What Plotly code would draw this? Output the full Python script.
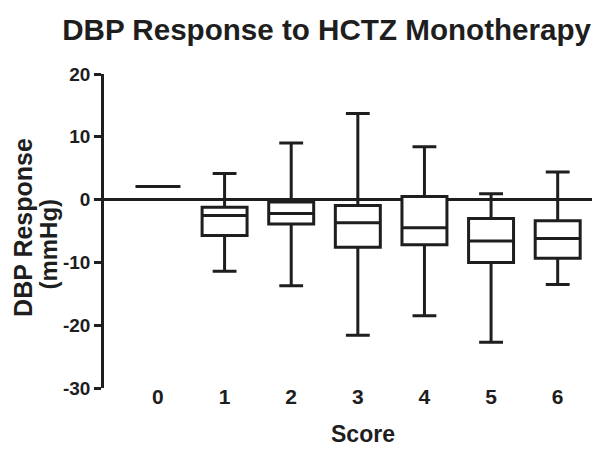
import plotly.graph_objects as go

scores = ["0", "1", "2", "3", "4", "5", "6"]
upper_whisker = [2.1, 4.15, 9.0, 13.7, 8.4, 0.95, 4.4]
q3_values = [2.1, -1.2, -0.4, -0.95, 0.5, -3.0, -3.35]
median_values = [2.1, -2.55, -2.2, -3.7, -4.5, -6.6, -6.2]
q1_values = [2.1, -5.7, -3.9, -7.6, -7.2, -10.0, -9.35]
lower_whisker = [2.1, -11.4, -13.7, -21.6, -18.5, -22.7, -13.5]
y_ticks = [20, 10, 0, -10, -20, -30]
y_tick_labels = ["20", "10", "0", "-10", "-20", "-30"]
y_title_lines = ["DBP Response", "(mmHg)"]
x_title = "Score"
chart_title = "DBP Response to HCTZ Monotherapy"

INK = "#1e1e1e"
FONT = "Liberation Sans, Arial, sans-serif"

fig = go.Figure()
fig.add_trace(go.Box(
    x=scores,
    q1=q1_values,
    median=median_values,
    q3=q3_values,
    lowerfence=lower_whisker,
    upperfence=upper_whisker,
    width=0.675,
    whiskerwidth=0.53,
    fillcolor="white",
    line=dict(color=INK, width=3),
    boxpoints=False,
    hoverinfo="skip",
    showlegend=False,
))

# axis titles placed as annotations for precise positioning
fig.add_annotation(text=y_title_lines[0], xref="paper", yref="paper",
                   x=-0.1656, y=0.51, textangle=-90, showarrow=False,
                   xanchor="center", yanchor="middle",
                   font=dict(size=25, family=FONT, color=INK, weight="bold"))
fig.add_annotation(text=y_title_lines[1], xref="paper", yref="paper",
                   x=-0.1125, y=0.46, textangle=-90, showarrow=False,
                   xanchor="center", yanchor="middle",
                   font=dict(size=24, family=FONT, color=INK, weight="bold"))
fig.add_annotation(text=x_title, xref="paper", yref="paper",
                   x=0.53, y=-0.1465, showarrow=False,
                   xanchor="center", yanchor="middle",
                   font=dict(size=23, family=FONT, color=INK, weight="bold"))

fig.update_layout(
    width=600,
    height=449,
    margin=dict(l=96, r=15, t=66, b=69),
    paper_bgcolor="white",
    plot_bgcolor="white",
    font=dict(family=FONT, color=INK),
    title=dict(
        text=chart_title,
        font=dict(size=29.6, family=FONT, color=INK, weight="bold"),
        x=0.531, xanchor="center", xref="container",
        y=0.952, yanchor="middle", yref="container",
    ),
    xaxis=dict(
        type="category",
        range=[-0.81, 6.53],
        showline=False,
        showgrid=False,
        zeroline=False,
        ticks="",
        ticklabelstandoff=-6,
        automargin=False,
        tickfont=dict(size=21, family=FONT, color=INK, weight="bold"),
    ),
    yaxis=dict(
        range=[-30, 20],
        tickvals=y_ticks,
        ticktext=y_tick_labels,
        showgrid=False,
        showline=True,
        linecolor=INK,
        linewidth=2.5,
        ticks="outside",
        ticklen=7,
        tickwidth=2.5,
        tickcolor=INK,
        zeroline=True,
        zerolinecolor=INK,
        zerolinewidth=3,
        automargin=False,
        tickfont=dict(size=19, family=FONT, color=INK, weight="bold"),
    ),
)

fig.write_html("out.html")
